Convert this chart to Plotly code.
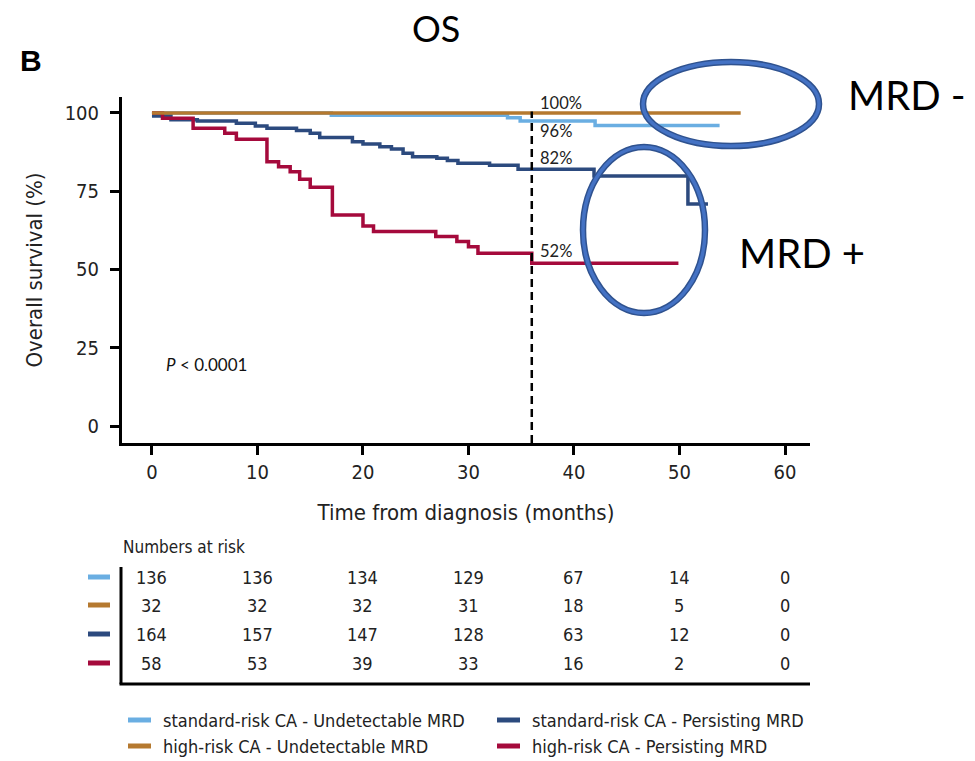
import plotly.graph_objects as go

# ---- Kaplan-Meier step curves (time in months, survival in %) ----
series_names = [
    "standard-risk CA - Undetectable MRD",
    "high-risk CA - Undetectable MRD",
    "standard-risk CA - Persisting MRD",
    "high-risk CA - Persisting MRD",
]
series_colors = ["#6AAEE2", "#B5792F", "#2C4A7E", "#A50A3C"]

std_undet_t = [0, 17.0, 33.7, 34.9, 42.0, 53.8]
std_undet_s = [100, 99.3, 98.5, 97.4, 96.0, 96.0]

high_undet_t = [0, 55.8]
high_undet_s = [100, 100]

std_pers_t = [0, 1.8, 4.3, 8.0, 9.8, 10.9, 13.7, 15.0, 15.9, 19.0, 20.0, 21.6,
              22.7, 23.8, 24.7, 27.0, 28.0, 29.0, 32.0, 34.7, 41.9, 50.8, 52.7]
std_pers_s = [99.0, 97.8, 97.4, 96.7, 95.8, 95.1, 94.4, 93.5, 92.2, 90.8, 90.1, 89.2,
              88.5, 87.1, 86.0, 85.5, 84.8, 83.9, 83.3, 82.0, 79.9, 70.9, 70.9]

high_pers_t = [0, 1.0, 3.9, 6.9, 8.0, 10.9, 12.0, 13.1, 14.0, 15.0, 17.1, 20.0,
               21.0, 26.9, 28.9, 30.0, 30.9, 36.0, 49.9]
high_pers_s = [100, 98.3, 95.1, 93.5, 91.6, 84.4, 82.8, 81.2, 78.8, 76.3, 67.4, 63.9,
               62.1, 60.5, 58.9, 57.3, 55.2, 52.0, 52.0]

curves_t = [std_undet_t, high_undet_t, std_pers_t, high_pers_t]
curves_s = [std_undet_s, high_undet_s, std_pers_s, high_pers_s]
draw_order = [0, 2, 3, 1]  # 100% line of the high-risk undetectable group on top

# 36-month landmark estimates
landmark_month = 36
landmark_labels = ["100%", "96%", "82%", "52%"]
landmark_values = [100, 96, 82, 52]
landmark_shift = [10, -6, 11, 12]

# ---- numbers at risk ----
risk_times = [0, 10, 20, 30, 40, 50, 60]
risk_rows = [
    [136, 136, 134, 129, 67, 14, 0],   # standard-risk CA - Undetectable MRD
    [32, 32, 32, 31, 18, 5, 0],        # high-risk CA - Undetectable MRD
    [164, 157, 147, 128, 63, 12, 0],   # standard-risk CA - Persisting MRD
    [58, 53, 39, 33, 16, 2, 0],        # high-risk CA - Persisting MRD
]

x_ticks = [0, 10, 20, 30, 40, 50, 60]
y_ticks = [0, 25, 50, 75, 100]

COND = "Liberation Sans Narrow, DejaVu Sans Condensed, Roboto Condensed, Arial Narrow, sans-serif"
SANS = "Lato, Carlito, Open Sans, sans-serif"

W, H = 975, 761
ML, MR, MT, MB = 122, 165, 97, 318
PW, PH = W - ML - MR, H - MT - MB


def px(x):
    return (x - ML) / PW


def py(y):
    return (H - MB - y) / PH


fig = go.Figure()

for i in draw_order:
    fig.add_trace(go.Scatter(
        x=curves_t[i], y=curves_s[i], mode="lines", name=series_names[i], line_shape="hv",
        line=dict(color=series_colors[i], width=3.5), showlegend=False, hoverinfo="skip",
    ))

shapes = []
annotations = []


def note(x, y, text, size, family, xanchor="center", xref="paper", yref="paper",
         color="#222", yshift=0):
    annotations.append(dict(x=x, y=y, xref=xref, yref=yref, text=text, showarrow=False,
                            xanchor=xanchor, yanchor="middle", yshift=yshift,
                            font=dict(family=family, size=size, color=color)))


# dashed landmark line at 36 months
shapes.append(dict(type="line", xref="x", yref="y", x0=landmark_month, x1=landmark_month,
                   y0=-5.4, y1=100.5, line=dict(color="black", width=2.5, dash="8px,5px")))

for lab, val, sh in zip(landmark_labels, landmark_values, landmark_shift):
    note(landmark_month + 0.55, val, lab, 16.5, SANS, xanchor="left", xref="x", yref="y",
         yshift=sh)

note(1.15, 19.5, "<i>P</i> < 0.0001", 17, SANS, xanchor="left", xref="x", yref="y",
     color="#111")

# headings
note(px(436), py(28), "OS", 36, SANS, color="black")
note(px(31), py(60), "<b>B</b>", 30, "Liberation Sans, Arial, sans-serif", color="black")

# callout ellipses and labels
for cx, cy, rx, ry in [(731, 104, 88, 42), (644, 230, 61, 83)]:
    for col, wd in [("#2F528F", 6.5), ("#4472C4", 3.5)]:
        shapes.append(dict(type="circle", xref="paper", yref="paper",
                           x0=px(cx - rx), x1=px(cx + rx), y0=py(cy + ry), y1=py(cy - ry),
                           line=dict(color=col, width=wd)))
note(px(846), py(95), "MRD -", 40, SANS, xanchor="left", color="black")
note(px(737), py(253), "MRD +", 40, SANS, xanchor="left", color="black")

# numbers-at-risk table
note(px(121), py(547), "Numbers at risk", 17, COND, xanchor="left")
row_y = [577, 605, 634, 663]
for row, color, ry_ in zip(risk_rows, series_colors, row_y):
    shapes.append(dict(type="line", xref="paper", yref="paper", x0=px(88), x1=px(110),
                       y0=py(ry_), y1=py(ry_), line=dict(color=color, width=5)))
    for t, n in zip(risk_times, row):
        note(t, py(ry_), str(n), 18, COND, xref="x")
shapes.append(dict(type="line", xref="paper", yref="paper", x0=px(121), x1=px(121),
                   y0=py(567), y1=py(684), line=dict(color="black", width=3)))
shapes.append(dict(type="line", xref="paper", yref="paper", x0=px(119.5), x1=px(810),
                   y0=py(684), y1=py(684), line=dict(color="black", width=3)))

# legend
legend_pos = [(128, 720), (128, 746), (497, 720), (497, 746)]
for name, color, (lx, ly) in zip(series_names, series_colors, legend_pos):
    shapes.append(dict(type="line", xref="paper", yref="paper", x0=px(lx), x1=px(lx + 23),
                       y0=py(ly), y1=py(ly), line=dict(color=color, width=5)))
    note(px(lx + 33), py(ly), name, 18, COND, xanchor="left")

fig.update_layout(
    width=W, height=H,
    margin=dict(l=ML, r=MR, t=MT, b=MB, pad=0),
    paper_bgcolor="white", plot_bgcolor="white",
    shapes=shapes, annotations=annotations,
    xaxis=dict(range=[-2.84, 62.37], tickvals=x_ticks, ticks="outside", ticklen=9,
               tickwidth=2.5, tickcolor="black", showline=True, linewidth=3,
               linecolor="black", showgrid=False, zeroline=False,
               tickfont=dict(family=COND, size=20, color="#222"),
               title=dict(text="Time from diagnosis (months)", standoff=22,
                          font=dict(family=COND, size=22, color="#222"))),
    yaxis=dict(range=[-5.43, 105.1], tickvals=y_ticks, ticks="outside", ticklen=9,
               tickwidth=2.5, tickcolor="black", showline=True, linewidth=3,
               linecolor="black", showgrid=False, zeroline=False, ticklabelstandoff=7,
               tickfont=dict(family=COND, size=20, color="#222"),
               title=dict(text="Overall survival (%)", standoff=16,
                          font=dict(family=COND, size=22, color="#222"))),
)

fig.write_html("out.html")
